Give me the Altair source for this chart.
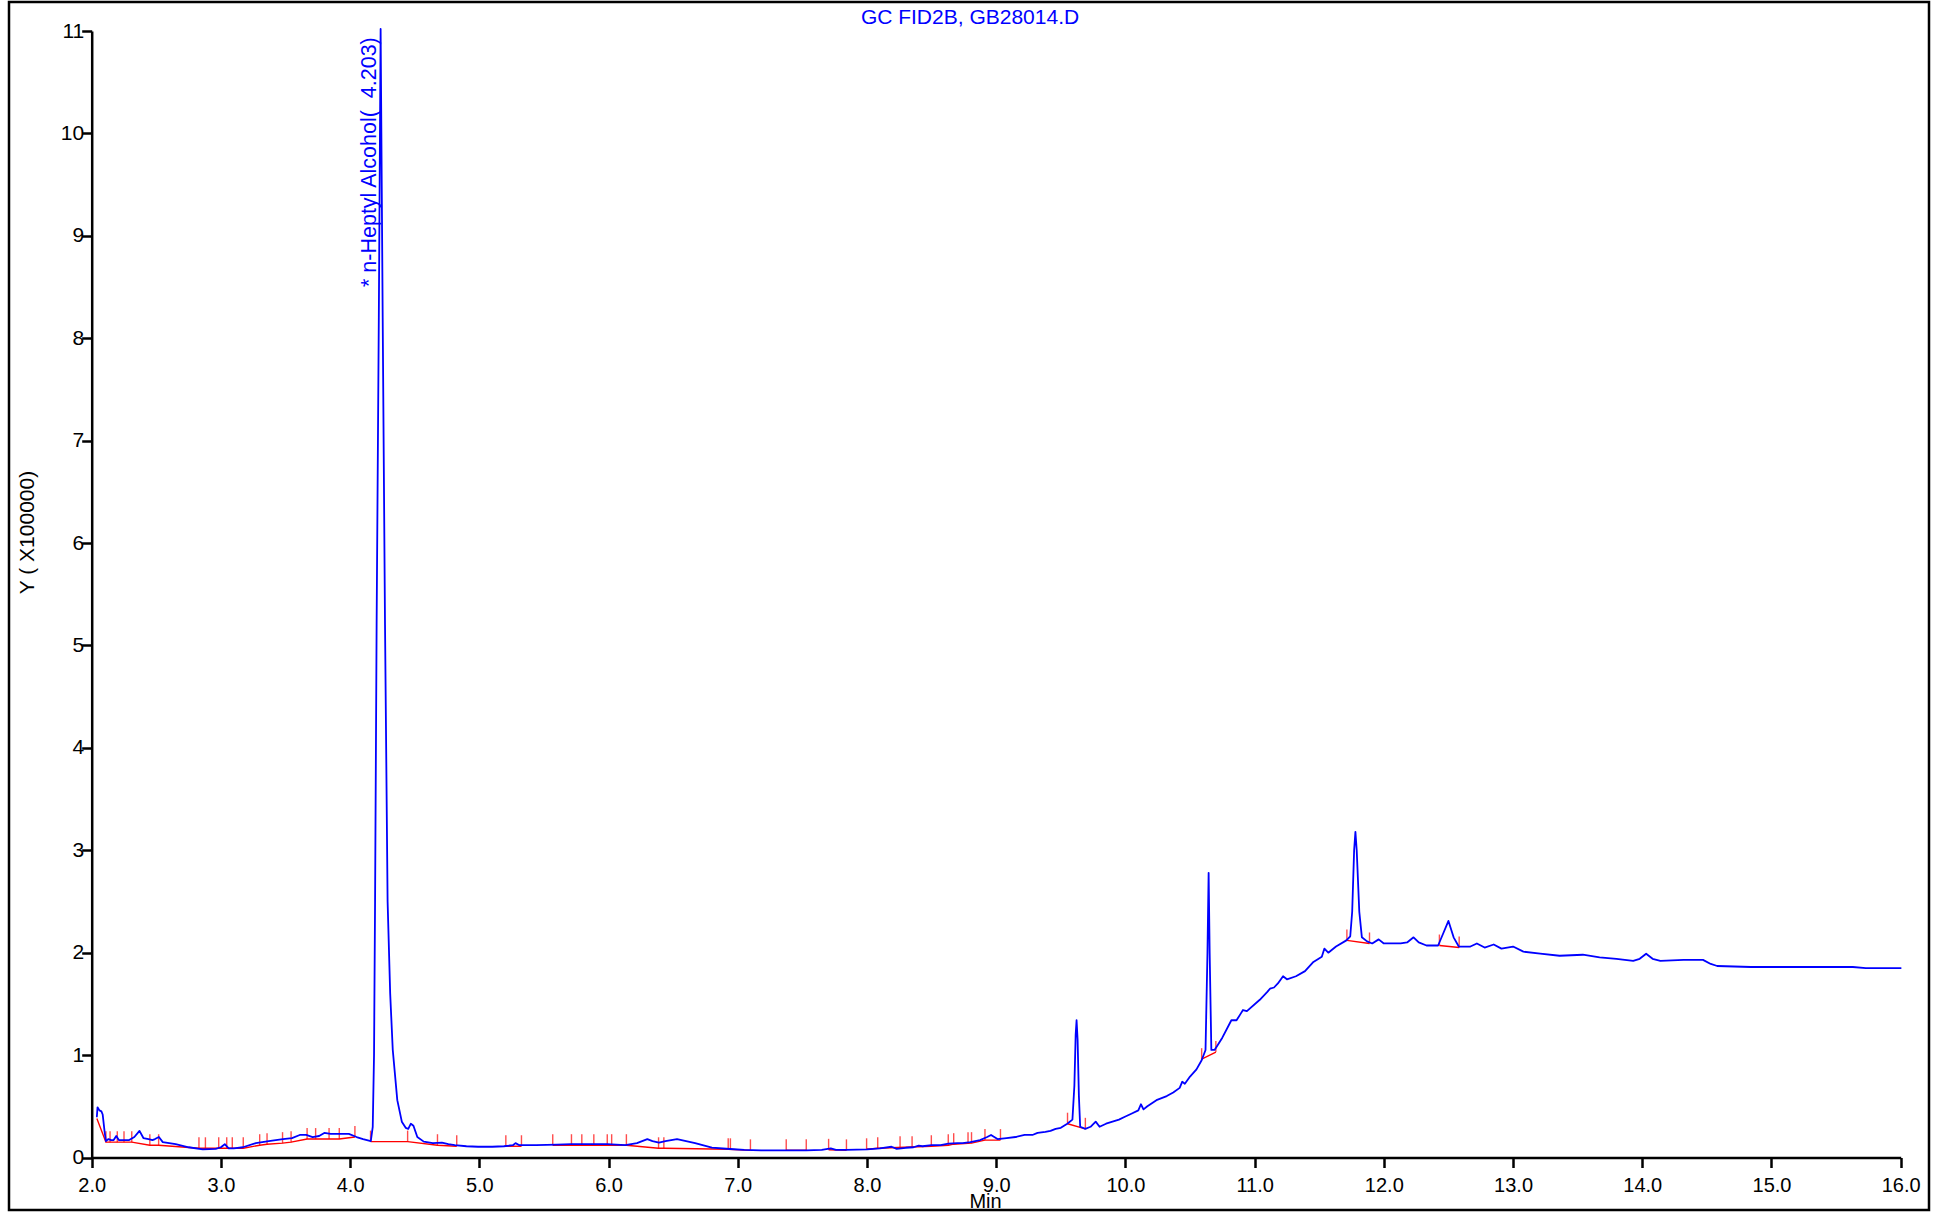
import altair as alt
import pandas as pd

# ---------------- data ----------------
title_text = "GC FID2B, GB28014.D"
peak_label = "* n-Heptyl Alcohol(\u00a0 4.203)"
peak_rt = 4.203
peak_label_y = 8.5
x_title = "Min"
y_title = "Y ( X100000)"
x_ticks = [2.0, 3.0, 4.0, 5.0, 6.0, 7.0, 8.0, 9.0, 10.0, 11.0, 12.0, 13.0, 14.0, 15.0, 16.0]
y_ticks = [0, 1, 2, 3, 4, 5, 6, 7, 8, 9, 10, 11]

# chromatogram trace (time in min, signal in units of 100000)
trace_t = [2.04, 2.045, 2.06, 2.075, 2.085, 2.10, 2.11, 2.13, 2.15, 2.17, 2.19, 2.21, 2.25, 2.29,
           2.33, 2.37, 2.40, 2.44, 2.47, 2.49, 2.52, 2.55, 2.60, 2.65, 2.75, 2.86, 2.96, 3.00,
           3.03, 3.06, 3.10, 3.17, 3.27, 3.37, 3.48, 3.55, 3.61, 3.66, 3.71, 3.76, 3.80, 3.85,
           3.92, 3.99, 4.05, 4.10, 4.16, 4.175, 4.185, 4.193, 4.205, 4.222, 4.236, 4.252, 4.27,
           4.29, 4.31, 4.33, 4.365, 4.40, 4.43, 4.45, 4.47, 4.49, 4.52, 4.57, 4.64, 4.71, 4.76,
           4.81, 4.90, 4.99, 5.10, 5.19, 5.26, 5.28, 5.31, 5.44, 5.60, 5.71, 5.85, 5.99, 6.13,
           6.22, 6.30, 6.34, 6.39, 6.44, 6.53, 6.60, 6.67, 6.80, 6.94, 7.05, 7.18, 7.35, 7.53,
           7.65, 7.72, 7.76, 7.84, 8.00, 8.10, 8.19, 8.23, 8.30, 8.36, 8.40, 8.43, 8.50, 8.57,
           8.63, 8.70, 8.74, 8.80, 8.875, 8.93, 8.96, 9.01, 9.08, 9.15, 9.22, 9.28, 9.32, 9.38,
           9.42, 9.46, 9.50, 9.55, 9.59, 9.605, 9.615, 9.622, 9.63, 9.64, 9.65, 9.69, 9.73,
           9.77, 9.80, 9.85, 9.90, 9.95, 10.00, 10.05, 10.10, 10.12, 10.14, 10.17, 10.24, 10.32,
           10.37, 10.42, 10.44, 10.46, 10.50, 10.55, 10.59, 10.62, 10.635, 10.644, 10.652,
           10.665, 10.69, 10.75, 10.82, 10.86, 10.89, 10.91, 10.94, 11.04, 11.10, 11.12, 11.15,
           11.18, 11.22, 11.25, 11.32, 11.39, 11.455, 11.52, 11.54, 11.57, 11.63, 11.71, 11.74,
           11.755, 11.77, 11.78, 11.79, 11.81, 11.83, 11.87, 11.91, 11.96, 12.00, 12.13, 12.18,
           12.23, 12.27, 12.33, 12.42, 12.46, 12.50, 12.54, 12.58, 12.67, 12.72, 12.78, 12.85,
           12.91, 13.00, 13.08, 13.21, 13.36, 13.54, 13.67, 13.80, 13.93, 13.98, 14.03, 14.08,
           14.14, 14.32, 14.47, 14.53, 14.58, 14.84, 15.22, 15.63, 15.73, 16.00]
trace_v = [0.40, 0.49, 0.46, 0.45, 0.42, 0.25, 0.16, 0.18, 0.17, 0.17, 0.21, 0.17, 0.17, 0.17,
           0.20, 0.26, 0.19, 0.18, 0.17, 0.18, 0.20, 0.15, 0.14, 0.13, 0.10, 0.08, 0.085, 0.10,
           0.13, 0.09, 0.09, 0.10, 0.14, 0.16, 0.18, 0.19, 0.22, 0.22, 0.20, 0.21, 0.24, 0.23,
           0.23, 0.23, 0.20, 0.18, 0.16, 0.30, 1.0, 2.5, 5.2, 8.2, 11.02, 8.2, 5.2,
           2.5, 1.6, 1.05, 0.56, 0.35, 0.29, 0.28, 0.33, 0.31, 0.20, 0.155, 0.14, 0.145, 0.13,
           0.12, 0.11, 0.105, 0.105, 0.11, 0.12, 0.14, 0.12, 0.12, 0.125, 0.13, 0.13, 0.13, 0.12,
           0.14, 0.18, 0.16, 0.145, 0.16, 0.18, 0.16, 0.14, 0.096, 0.083, 0.075, 0.07, 0.07, 0.07,
           0.075, 0.09, 0.075, 0.075, 0.08, 0.09, 0.105, 0.085, 0.095, 0.10, 0.115, 0.11, 0.12, 0.12,
           0.135, 0.14, 0.14, 0.15, 0.17, 0.20, 0.22, 0.18, 0.19, 0.20, 0.22, 0.22, 0.24, 0.25,
           0.26, 0.28, 0.29, 0.33, 0.37, 0.70, 1.20, 1.34, 1.15, 0.60, 0.30, 0.28, 0.30,
           0.35, 0.30, 0.33, 0.35, 0.37, 0.40, 0.43, 0.46, 0.52, 0.47, 0.50, 0.56, 0.60,
           0.635, 0.68, 0.74, 0.72, 0.79, 0.86, 0.95, 1.05, 2.0, 2.78, 2.0,
           1.05, 1.05, 1.17, 1.34, 1.34, 1.40, 1.44, 1.43, 1.54, 1.62, 1.65, 1.66,
           1.70, 1.77, 1.74, 1.77, 1.82, 1.91, 1.96, 2.04, 2.00, 2.06, 2.12, 2.16,
           2.40, 3.00, 3.18, 3.00, 2.40, 2.15, 2.11, 2.09, 2.13, 2.09, 2.09, 2.10,
           2.15, 2.10, 2.07, 2.07, 2.19, 2.31, 2.15, 2.06, 2.06, 2.09, 2.05, 2.08,
           2.04, 2.06, 2.01, 1.99, 1.97, 1.98, 1.955, 1.94, 1.92, 1.94, 1.99, 1.94,
           1.92, 1.93, 1.93, 1.89, 1.87, 1.86, 1.86, 1.86, 1.85, 1.85]

# integration baseline segments (red)
base_seg = ["A"] * 15 + ["B"] * 4 + ["C"] * 2 + ["D"] * 6 + ["E"] * 2 + ["F"] * 2 + ["G"] * 8 \
           + ["H"] * 2 + ["I"] * 2 + ["J"] * 2 + ["K"] * 2
base_t = [2.04, 2.11, 2.31, 2.45, 2.518, 2.83, 2.88, 3.173, 3.30, 3.357, 3.477, 3.543, 3.667, 3.916, 4.037,
          4.158, 4.445, 4.676, 4.825,
          5.205, 5.326,
          5.568, 6.138, 6.387, 6.428, 6.926, 7.098,
          7.375, 7.53,
          7.703, 7.841,
          7.997, 8.083, 8.498, 8.629, 8.671, 8.809, 8.913, 9.033,
          9.552, 9.69,
          10.59, 10.70,
          11.714, 11.889,
          12.43, 12.583]
base_v = [0.38, 0.15, 0.15, 0.12, 0.12, 0.09, 0.09, 0.09, 0.12, 0.13, 0.14, 0.15, 0.18, 0.18, 0.20,
          0.155, 0.155, 0.12, 0.11,
          0.11, 0.11,
          0.12, 0.12, 0.09, 0.09, 0.08, 0.07,
          0.07, 0.07,
          0.075, 0.07,
          0.08, 0.09, 0.11, 0.12, 0.13, 0.14, 0.17, 0.17,
          0.33, 0.28,
          0.96, 1.03,
          2.12, 2.09,
          2.07, 2.05]

# peak start / end markers (red)
mark_t = [2.11, 2.142, 2.198, 2.25, 2.31, 2.45, 2.518, 2.83, 2.88, 2.983, 3.045, 3.088, 3.173,
          3.30, 3.357, 3.477, 3.543, 3.667, 3.733, 3.837, 3.916, 4.037, 4.158, 4.445, 4.676,
          4.825, 5.205, 5.326, 5.568, 5.713, 5.793, 5.886, 5.99, 6.024, 6.138, 6.387, 6.428,
          6.926, 6.943, 7.098, 7.375, 7.53, 7.703, 7.841, 7.997, 8.083, 8.256, 8.349, 8.498,
          8.629, 8.671, 8.782, 8.809, 8.913, 9.033, 9.552, 9.69, 10.59, 10.70, 11.714, 11.889,
          12.43, 12.583]
mark_v = [0.15, 0.15, 0.15, 0.15, 0.15, 0.12, 0.12, 0.09, 0.09, 0.09, 0.09, 0.09, 0.09,
          0.12, 0.13, 0.14, 0.15, 0.18, 0.18, 0.18, 0.18, 0.20, 0.155, 0.155, 0.12,
          0.11, 0.11, 0.11, 0.12, 0.12, 0.12, 0.12, 0.12, 0.12, 0.12, 0.09, 0.09,
          0.08, 0.08, 0.07, 0.07, 0.07, 0.075, 0.07, 0.08, 0.09, 0.10, 0.10, 0.11,
          0.12, 0.13, 0.14, 0.14, 0.17, 0.17, 0.33, 0.28, 0.96, 1.03, 2.12, 2.09,
          2.07, 2.05]

# ---------------- layout / style ----------------
BLUE = "#0000ff"
RED = "#ff0000"
FONT = "Liberation Sans"
VIEW_W, VIEW_H = 1920, 1208          # the outer black frame
X_RANGE = [82.7, 1891.7]             # inner plotting extent inside the frame
Y_RANGE = [1155.5, 29.0]

trace_df = pd.DataFrame({"t": trace_t, "v": trace_v})
base_df = pd.DataFrame({"t": base_t, "v": base_v, "seg": base_seg,
                        "ord": list(range(len(base_t)))})
mark_df = pd.DataFrame({"t": mark_t, "v": mark_v})
label_df = pd.DataFrame({"t": [peak_rt], "v": [peak_label_y], "label": [peak_label]})
title_df = pd.DataFrame({"label": [title_text]})

xscale = alt.Scale(domain=[2, 16], range=X_RANGE, nice=False, zero=False)
yscale = alt.Scale(domain=[0, 11], range=Y_RANGE, nice=False, zero=False)

x_axis = alt.Axis(values=x_ticks, format=".1f", offset=-(VIEW_H - Y_RANGE[0]), grid=False,
                  tickSize=10, tickWidth=2.5, tickColor="black",
                  domainWidth=2.5, domainColor="black",
                  labelFont=FONT, labelFontSize=20, labelColor="black", labelPadding=8,
                  labelOverlap=False, labelFlush=False,
                  title=x_title, titleFont=FONT, titleFontSize=20, titleFontWeight="normal",
                  titleColor="black", titleX=976, titleY=34, titleBaseline="top",
                  titleAlign="center")
y_axis = alt.Axis(values=y_ticks, format="d", offset=-X_RANGE[0], grid=False,
                  tickSize=10, tickWidth=2.5, tickColor="black",
                  domainWidth=2.5, domainColor="black",
                  labelFont=FONT, labelFontSize=21, labelColor="black", labelPadding=-2,
                  labelOverlap=False, labelFlush=False,
                  title=y_title, titleFont=FONT, titleFontSize=21, titleFontWeight="normal",
                  titleColor="black", titleAngle=270, titleX=-63.7, titleY=530,
                  titleBaseline="middle", titleAlign="center")

X = alt.X("t:Q", scale=xscale, axis=x_axis)
Y = alt.Y("v:Q", scale=yscale, axis=y_axis)

trace = alt.Chart(trace_df).mark_line(color=BLUE, strokeWidth=1.8, strokeJoin="round",
                                      strokeCap="round").encode(x=X, y=Y, order="t:Q")

baseline = alt.Chart(base_df).mark_line(color=RED, strokeWidth=1.4).encode(
    x=X, y=Y, detail="seg:N", order="ord:Q")

markers = alt.Chart(mark_df).mark_tick(color=RED, orient="vertical", size=11, thickness=1.4,
                                       yOffset=-5.5).encode(x=X, y=Y)

annot = alt.Chart(label_df).mark_text(angle=270, align="left", baseline="alphabetic",
                                      font=FONT, fontSize=21.5, color=BLUE).encode(
    x=X, y=Y, text="label:N")

title = alt.Chart(title_df).mark_text(align="center", baseline="middle", font=FONT,
                                      fontSize=21, color=BLUE).encode(
    x=alt.value(961), y=alt.value(15.5), text="label:N")

chart = alt.layer(baseline, markers, trace, annot, title).properties(
    width=VIEW_W, height=VIEW_H,
    padding={"left": 9, "top": 2, "right": 19, "bottom": 2},
    background="white",
).configure_view(stroke="black", strokeWidth=2.5)

chart.save("out.html", embed_options={"renderer": "svg", "actions": False})
